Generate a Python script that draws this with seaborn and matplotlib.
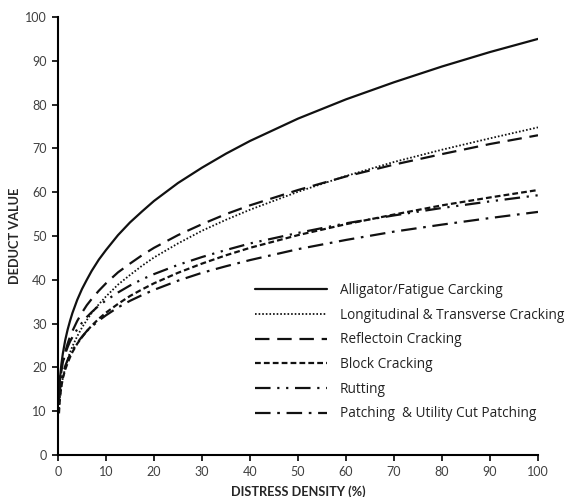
import matplotlib
matplotlib.use("Agg")
import matplotlib.pyplot as plt
import seaborn as sns
import pandas as pd

# Distress density (%) at which each deduct curve is sampled
density = [0.2, 0.4, 0.7, 1, 1.5, 2, 2.5, 3, 4, 5, 6, 7, 8.5, 10, 12.5, 15, 17.5,
           20, 25, 30, 35, 40, 50, 60, 70, 80, 90, 100]

alligator = [14.1, 17.4, 20.7, 23.1, 26.2, 28.6, 30.6, 32.4, 35.4, 37.9, 40.0, 42.0, 44.6,
             46.8, 50.2, 53.1, 55.6, 58.0, 62.1, 65.6, 68.8, 71.7, 76.8, 81.2, 85.1, 88.7, 92.0, 95.0]
longitudinal = [10.6, 13.1, 15.7, 17.5, 19.9, 21.8, 23.4, 24.8, 27.1, 29.1, 30.8, 32.4, 34.4,
                36.2, 38.9, 41.1, 43.2, 45.1, 48.3, 51.2, 53.7, 56.0, 60.1, 63.7, 66.9, 69.7, 72.3, 74.8]
reflection = [13.6, 16.4, 19.1, 21.1, 23.5, 25.4, 27.0, 28.3, 30.6, 32.5, 34.2, 35.6, 37.5,
              39.2, 41.7, 43.7, 45.6, 47.3, 50.2, 52.7, 55.0, 57.0, 60.5, 63.6, 66.3, 68.7, 71.0, 73.0]
block = [9.5, 13.0, 15.6, 17.5, 19.5, 21.0, 22.3, 23.5, 25.4, 26.9, 28.3, 29.5, 31.1,
         32.5, 34.5, 36.3, 37.8, 39.2, 41.6, 43.7, 45.6, 47.3, 50.2, 52.7, 54.9, 57.0, 58.8, 60.5]
rutting = [14.7, 17.1, 19.4, 21.0, 23.1, 24.6, 25.9, 26.9, 28.7, 30.2, 31.5, 32.6, 34.1,
           35.3, 37.1, 38.7, 40.1, 41.3, 43.4, 45.2, 46.8, 48.3, 50.7, 52.9, 54.7, 56.4, 57.9, 59.3]
patching = [12.5, 14.8, 16.9, 18.4, 20.3, 21.7, 22.9, 23.9, 25.6, 27.0, 28.3, 29.3, 30.7,
            31.9, 33.7, 35.2, 36.5, 37.7, 39.8, 41.6, 43.1, 44.5, 47.0, 49.1, 51.0, 52.6, 54.1, 55.5]

series_names = [
    "Alligator/Fatigue Carcking",
    "Longitudinal & Transverse Cracking",
    "Reflectoin Cracking",
    "Block Cracking",
    "Rutting",
    "Patching  & Utility Cut Patching",
]
series_values = [alligator, longitudinal, reflection, block, rutting, patching]

# line styles (dash patterns in linewidth units) and widths per curve
styles = [
    ("-", 1.6),
    ((0, (0.9, 1.1)), 1.3),
    ((0, (6.5, 3.5)), 1.6),
    ((0, (2.6, 1.4)), 1.6),
    ((0, (7.0, 3.0, 1.0, 3.0, 1.0, 3.0)), 1.6),
    ((0, (7.0, 3.0, 1.2, 3.0)), 1.6),
]

frames = []
for name, vals in zip(series_names, series_values):
    frames.append(pd.DataFrame({"density": density, "deduct": vals, "distress": name}))
df = pd.concat(frames, ignore_index=True)

sns.set_style("white")
plt.rcParams["font.family"] = ["Lato", "DejaVu Sans"]

fig = plt.figure(figsize=(5.70, 4.97), dpi=100)
ax = fig.add_axes([58 / 570, 42 / 497, 480 / 570, 438 / 497])

for name, (ls, lw) in zip(series_names, styles):
    sub = df[df["distress"] == name]
    sns.lineplot(data=sub, x="density", y="deduct", ax=ax, color="#111111",
                 linestyle=ls, linewidth=lw, label=name, errorbar=None,
                 sort=True)

ax.set_xlim(0, 100)
ax.set_ylim(0, 100)
ax.set_xticks(range(0, 101, 10))
ax.set_yticks(range(0, 101, 10))
for side in ("top", "right"):
    ax.spines[side].set_visible(False)
for side in ("left", "bottom"):
    ax.spines[side].set_color("black")
    ax.spines[side].set_linewidth(1.5)
ax.tick_params(axis="both", direction="out", length=4, width=1.2, color="black",
               labelsize=9, labelcolor="#404040", pad=4, left=True, bottom=True)

ax.set_xlabel("DISTRESS DENSITY (%)", fontsize=9.2, fontweight="bold", labelpad=5)
ax.set_ylabel("DEDUCT VALUE", fontsize=9.2, fontweight="bold", labelpad=3)

leg = ax.legend(loc="upper left", bbox_to_anchor=(255 / 570, 1 - 283 / 497),
                bbox_transform=fig.transFigure, frameon=False,
                handlelength=5.3, handletextpad=0.95, labelspacing=0.71,
                borderpad=0, borderaxespad=0,
                prop={"family": ["Open Sans", "DejaVu Sans"], "size": 9.8})
for t in leg.get_texts():
    t.set_color("#222222")

fig.savefig("out.png", dpi=100, facecolor="white")
